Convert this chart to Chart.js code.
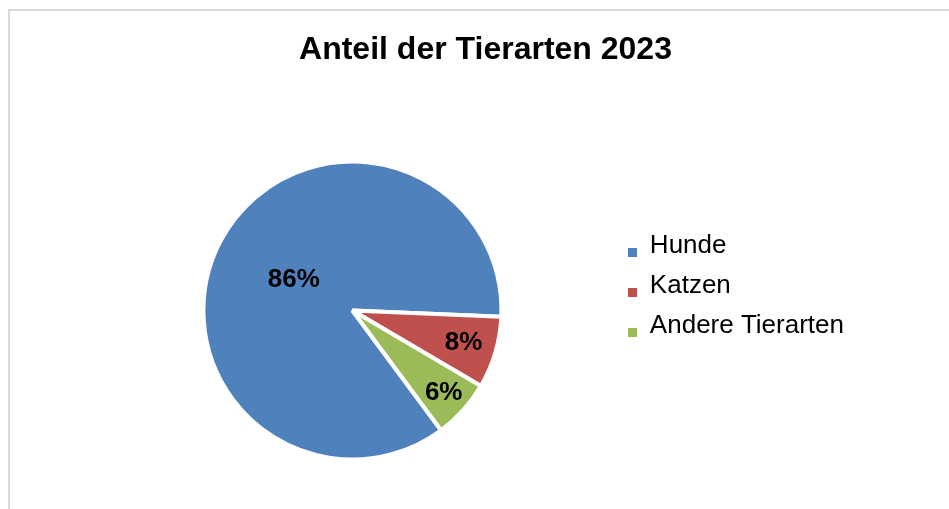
<!DOCTYPE html>
<html lang="de">
<head>
<meta charset="utf-8">
<title>Anteil der Tierarten 2023</title>
<script src="https://cdn.jsdelivr.net/npm/chart.js@4.4.1/dist/chart.umd.min.js"></script>
<style>
    html, body { margin: 0; padding: 0; background: #fff; overflow: hidden; }
    #frame { position: absolute; left: 8px; top: 9px; width: 960px; height: 520px; border: 2px solid #d9d9d9; }
    #wrap { position: absolute; left: 0; top: 0; width: 949px; height: 509px; }
    #chart-title {
        position: absolute; left: 22px; top: 29px; width: 927px; margin: 0;
        text-align: center; color: #000;
        font: bold 32px/38px "Liberation Sans", Arial, sans-serif;
    }
</style>
</head>
<body>
<div id="frame"></div>
<div id="wrap"><canvas id="pieChart"></canvas></div>
<h1 id="chart-title">Anteil der Tierarten 2023</h1>
<script>
// values (percent)
const categories = ['Hunde', 'Katzen', 'Andere Tierarten'];
const shares = [85.8, 7.8, 6.4];
const sliceColors = ['#4F81BD', '#C0504D', '#9BBB59'];

window.addEventListener('load', initialize);

// draws the rounded percentage inside each slice
const sliceLabelPlugin = {
    id: 'sliceLabels',
    afterDatasetsDraw(chart, args, opts) {
        const ctx = chart.ctx;
        const meta = chart.getDatasetMeta(0);
        const values = chart.data.datasets[0].data;
        const total = values.reduce((a, b) => a + b, 0);
        ctx.save();
        ctx.font = opts.font;
        ctx.fillStyle = opts.color;
        ctx.textAlign = 'center';
        ctx.textBaseline = 'middle';
        meta.data.forEach((arc, i) => {
            const mid = (arc.startAngle + arc.endAngle) / 2;
            const r = arc.outerRadius * opts.radius[i];
            const text = Math.round(values[i] / total * 100) + '%';
            ctx.fillText(text, arc.x + Math.cos(mid) * r, arc.y + Math.sin(mid) * r);
        });
        ctx.restore();
    }
};

// small square that sits a bit below the text middle, like the Excel legend
function makeLegendMarker(color) {
    const c = document.createElement('canvas');
    c.width = 9;
    c.height = 22;
    const g = c.getContext('2d');
    g.fillStyle = color;
    g.fillRect(0, 13, 9, 9);
    return c;
}

function initialize() {
    Chart.defaults.font.family = '"Liberation Sans", Arial, sans-serif';
    Chart.defaults.color = '#000';

    const ctx = document.getElementById('pieChart').getContext('2d');
    new Chart(ctx, {
        type: 'pie',
        data: {
            labels: categories,
            datasets: [{
                data: shares,
                backgroundColor: sliceColors,
                borderColor: '#ffffff',
                borderWidth: 4,
                radius: 149,
                clip: false
            }]
        },
        options: {
            responsive: true,
            maintainAspectRatio: false,
            animation: false,
            rotation: 143.5,
            layout: { padding: { top: 219, left: 91, right: 95, bottom: 107 } },
            plugins: {
                title: { display: false },
                legend: {
                    position: 'right',
                    align: 'start',
                    fullSize: false,
                    labels: {
                        boxWidth: 9,
                        boxHeight: 9,
                        padding: 14,
                        usePointStyle: true,
                        color: '#000',
                        font: { size: 26 },
                        generateLabels(chart) {
                            const ds = chart.data.datasets[0];
                            return chart.data.labels.map((label, i) => ({
                                text: label,
                                fillStyle: ds.backgroundColor[i],
                                strokeStyle: ds.backgroundColor[i],
                                lineWidth: 0,
                                pointStyle: makeLegendMarker(ds.backgroundColor[i]),
                                hidden: false,
                                index: i,
                                fontColor: '#000'
                            }));
                        }
                    }
                },
                tooltip: { enabled: false },
                sliceLabels: {
                    font: 'bold 26px "Liberation Sans", Arial, sans-serif',
                    color: '#000',
                    radius: [0.445, 0.778, 0.824]
                }
            }
        },
        plugins: [sliceLabelPlugin]
    });
}
</script>
</body>
</html>
